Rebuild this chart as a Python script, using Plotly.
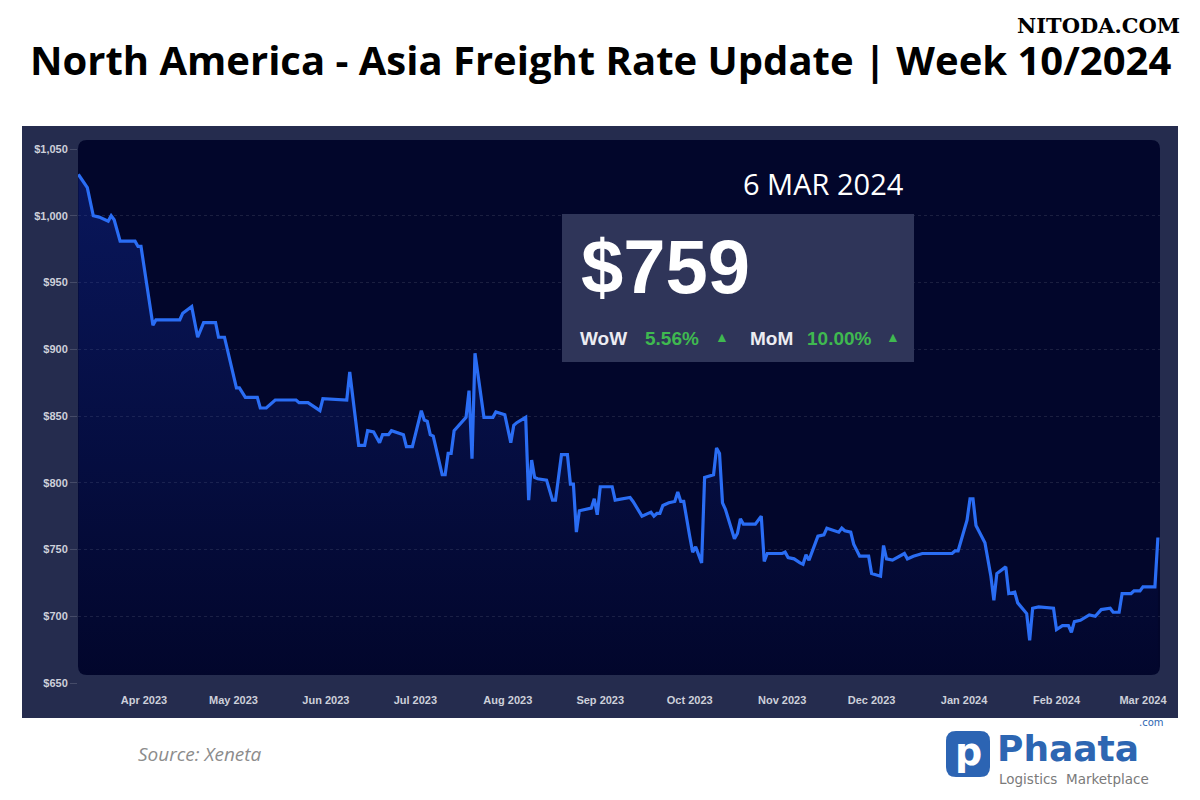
import plotly.graph_objects as go

# ---------------- data ----------------
dates = [
    "2023-03-10", "2023-03-13", "2023-03-15", "2023-03-17", "2023-03-20", "2023-03-21", "2023-03-22",
    "2023-03-24", "2023-03-29", "2023-03-30", "2023-03-31",
    "2023-04-04", "2023-04-05", "2023-04-13", "2023-04-14", "2023-04-17", "2023-04-19", "2023-04-21",
    "2023-04-25", "2023-04-26", "2023-04-28",
    "2023-05-02", "2023-05-03", "2023-05-05", "2023-05-09", "2023-05-10", "2023-05-12", "2023-05-15",
    "2023-05-22", "2023-05-23", "2023-05-26", "2023-05-30", "2023-05-31",
    "2023-06-08", "2023-06-09", "2023-06-12", "2023-06-14", "2023-06-15", "2023-06-17", "2023-06-19",
    "2023-06-20", "2023-06-22", "2023-06-23", "2023-06-27", "2023-06-28", "2023-06-30",
    "2023-07-03", "2023-07-04", "2023-07-05", "2023-07-06", "2023-07-07", "2023-07-10", "2023-07-11",
    "2023-07-12", "2023-07-13", "2023-07-14", "2023-07-18", "2023-07-19", "2023-07-20", "2023-07-21",
    "2023-07-24", "2023-07-27", "2023-07-28", "2023-07-31",
    "2023-08-02", "2023-08-03", "2023-08-04", "2023-08-07", "2023-08-08", "2023-08-09", "2023-08-10",
    "2023-08-11", "2023-08-14", "2023-08-16", "2023-08-17", "2023-08-19", "2023-08-21", "2023-08-22",
    "2023-08-23", "2023-08-24", "2023-08-25", "2023-08-29", "2023-08-30", "2023-08-31",
    "2023-09-01", "2023-09-05", "2023-09-06", "2023-09-09", "2023-09-11", "2023-09-12", "2023-09-15",
    "2023-09-18", "2023-09-19", "2023-09-20", "2023-09-21", "2023-09-22", "2023-09-24", "2023-09-26",
    "2023-09-27", "2023-09-28", "2023-09-29",
    "2023-10-01", "2023-10-02", "2023-10-03", "2023-10-05", "2023-10-06", "2023-10-09", "2023-10-10",
    "2023-10-11", "2023-10-12", "2023-10-13", "2023-10-16", "2023-10-17", "2023-10-18", "2023-10-19",
    "2023-10-23", "2023-10-25", "2023-10-26", "2023-10-27",
    "2023-11-01", "2023-11-02", "2023-11-03", "2023-11-05", "2023-11-07", "2023-11-08", "2023-11-09",
    "2023-11-10", "2023-11-13", "2023-11-15", "2023-11-16", "2023-11-20", "2023-11-21", "2023-11-22",
    "2023-11-24", "2023-11-25", "2023-11-27", "2023-11-30",
    "2023-12-01", "2023-12-04", "2023-12-05", "2023-12-06", "2023-12-08", "2023-12-12", "2023-12-13",
    "2023-12-15", "2023-12-18", "2023-12-28", "2023-12-29", "2023-12-30",
    "2024-01-02", "2024-01-03", "2024-01-04", "2024-01-05", "2024-01-08", "2024-01-10", "2024-01-11",
    "2024-01-12", "2024-01-15", "2024-01-16", "2024-01-18", "2024-01-19", "2024-01-22", "2024-01-23",
    "2024-01-24", "2024-01-26", "2024-01-31",
    "2024-02-01", "2024-02-03", "2024-02-05", "2024-02-06", "2024-02-07", "2024-02-09", "2024-02-12",
    "2024-02-14", "2024-02-16", "2024-02-19", "2024-02-20", "2024-02-22", "2024-02-23", "2024-02-26",
    "2024-02-27", "2024-02-29",
    "2024-03-01", "2024-03-05", "2024-03-06",
]

rates = [
    1031, 1021, 1000, 999, 996, 1000, 997, 981, 981, 977, 977,
    918, 922, 922, 927, 932, 909, 920, 920, 909, 909,
    871, 871, 864, 864, 856, 856, 862, 862, 860, 860, 854, 863,
    862, 883, 828, 828, 839, 838, 830, 836, 836, 839, 836, 827, 827,
    854, 847, 846, 836, 835, 806, 806, 822, 822, 839, 849, 869, 818, 897, 849, 849, 853, 851,
    830, 843, 845, 849, 787, 817, 804, 803, 802, 787, 787, 821, 821, 799, 799, 763, 779, 781, 788, 776,
    797, 797, 787, 788, 789, 786, 775, 778, 775, 777, 777, 783, 785, 786, 793, 786, 786,
    760, 748, 752, 740, 804, 806, 826, 822, 785, 780, 758, 762, 773, 769, 769, 775, 741, 747,
    747, 748, 744, 743, 740, 739, 746, 742, 760, 761, 766, 763, 766, 764, 763, 754, 745, 745,
    732, 730, 753, 743, 742, 747, 743, 745, 747, 747, 749, 749,
    772, 788, 788, 768, 755, 730, 712, 732, 737, 717, 718, 710, 702, 682, 706, 707, 706,
    690, 693, 693, 688, 696, 697, 701, 700, 705, 706, 703, 703, 717, 717, 719, 719,
    722, 722, 759,
]

y_ticks = [650, 700, 750, 800, 850, 900, 950, 1000, 1050]

title_text = "North America - Asia Freight Rate Update | Week 10/2024"
date_label = "6 MAR 2024"
price_label = "$759"
wow_label, wow_value = "WoW", "5.56%"
mom_label, mom_value = "MoM", "10.00%"
source_text = "Source: Xeneta"

# ---------------- geometry helpers (pixels -> paper) ----------------
W, H = 1200, 800
L, R, T, B = 78, 1160, 149, 683


def px(x):
    return (x - L) / (R - L)


def py(y):
    return (B - y) / (B - T)


def rounded(x0, y0, x1, y1, r):
    pts = [
        ("M", [(x0 + r, y0)]),
        ("L", [(x1 - r, y0)]),
        ("Q", [(x1, y0), (x1, y0 + r)]),
        ("L", [(x1, y1 - r)]),
        ("Q", [(x1, y1), (x1 - r, y1)]),
        ("L", [(x0 + r, y1)]),
        ("Q", [(x0, y1), (x0, y1 - r)]),
        ("L", [(x0, y0 + r)]),
        ("Q", [(x0, y0), (x0 + r, y0)]),
    ]
    s = ""
    for cmd, coords in pts:
        s += cmd + " " + " ".join(f"{px(a):.5f},{py(b):.5f}" for a, b in coords) + " "
    return s + "Z"


PANEL = "#252c4e"
INNER = "#02062b"
BOX = "#2f3559"
LINE = "#2a6df4"
GREEN = "#3fb950"
TICK_COL = "#cdd0da"

fig = go.Figure()
fig.add_trace(go.Scatter(
    x=dates, y=rates, mode="lines",
    line=dict(color=LINE, width=3.2),
    fill="tozeroy",
    fillgradient=dict(
        type="vertical",
        colorscale=[[0, "rgba(25,60,200,0.0)"], [1, "rgba(25,60,200,0.32)"]],
        start=650, stop=1050,
    ),
    hoverinfo="skip",
    showlegend=False,
))

shapes = [
    # outer panel
    dict(type="rect", xref="paper", yref="paper", x0=px(22), x1=px(1178), y0=py(718), y1=py(126),
         fillcolor=PANEL, line=dict(width=0), layer="below"),
    # inner dark plot panel (rounded)
    dict(type="path", xref="paper", yref="paper", path=rounded(78, 140, 1160, 675, 9),
         fillcolor=INNER, line=dict(width=0), layer="below"),
    # info box
    dict(type="rect", xref="paper", yref="paper", x0=px(562), x1=px(914), y0=py(362), y1=py(214),
         fillcolor=BOX, line=dict(width=0), layer="above"),
    # logo icon
    dict(type="path", xref="paper", yref="paper", path=rounded(946, 731, 990, 777, 10),
         fillcolor="#2c64b3", line=dict(width=0), layer="above"),
]

ann = []


def add_text(text, x, y, size, color, family="Liberation Sans, Arial, sans-serif",
             xanchor="left", yanchor="middle"):
    ann.append(dict(text=text, x=px(x), y=py(y), xref="paper", yref="paper",
                    xanchor=xanchor, yanchor=yanchor, showarrow=False, borderpad=0,
                    font=dict(size=size, color=color, family=family)))


add_text(f"<b>{title_text}</b>", 600, 60, 40, "#000000", family="Open Sans, sans-serif", xanchor="center")
add_text("<b>NITODA.COM</b>", 1098, 25, 21, "#000000", family="DejaVu Serif, serif", xanchor="center")
add_text(date_label, 823, 183, 29, "#ffffff", family="Open Sans, sans-serif", xanchor="center")
add_text(f"<b>{price_label}</b>", 580, 266, 76, "#ffffff")
add_text(f"<b>{wow_label}</b>", 579, 338, 19, "#ececf2")
add_text(f"<b>{wow_value}</b>", 644, 338, 19, GREEN)
add_text("▲", 714, 337, 14, GREEN)
add_text(f"<b>{mom_label}</b>", 749, 338, 19, "#ececf2")
add_text(f"<b>{mom_value}</b>", 806, 338, 19, GREEN)
add_text("▲", 885, 337, 14, GREEN)
add_text(f"<i>{source_text}</i>", 137, 754, 19, "#8c8c8c", family="Open Sans, sans-serif")
# logo
add_text("<b>p</b>", 968, 752, 38, "#ffffff", family="DejaVu Sans, sans-serif", xanchor="center")
add_text("<b>Phaata</b>", 996, 748, 36, "#2d66b2", family="DejaVu Sans, sans-serif")
add_text(".com", 1165, 722, 10, "#2d66b2", family="DejaVu Sans, sans-serif", xanchor="right")
add_text("Logistics  Marketplace", 998, 779, 13.5, "#7a7a7a", family="DejaVu Sans, sans-serif")

fig.update_layout(
    width=W, height=H, autosize=False,
    margin=dict(l=L, r=W - R, t=T, b=H - B, pad=0),
    paper_bgcolor="#ffffff",
    plot_bgcolor="rgba(0,0,0,0)",
    shapes=shapes,
    annotations=ann,
    showlegend=False,
    xaxis=dict(
        type="date",
        range=["2023-03-09 21:00", "2024-03-06 17:00"],
        tick0="2023-04-01", dtick="M1", tickformat="<b>%b %Y</b>",
        showgrid=False, zeroline=False, showline=False,
        ticks="outside", ticklen=7, tickcolor="rgba(0,0,0,0)",
        tickfont=dict(size=11, color=TICK_COL, family="Liberation Sans, Arial, sans-serif"),
        fixedrange=True,
    ),
    yaxis=dict(
        range=[650, 1050],
        tickvals=y_ticks,
        ticktext=[f"<b>${v:,}</b>" for v in y_ticks],
        showgrid=True, gridcolor="rgba(255,255,255,0.10)", griddash="dot", gridwidth=1,
        zeroline=False, showline=False,
        ticks="outside", ticklen=7, tickcolor="rgba(255,255,255,0.15)",
        tickfont=dict(size=11, color=TICK_COL, family="Liberation Sans, Arial, sans-serif"),
        fixedrange=True,
    ),
)

fig.write_html("out.html")
